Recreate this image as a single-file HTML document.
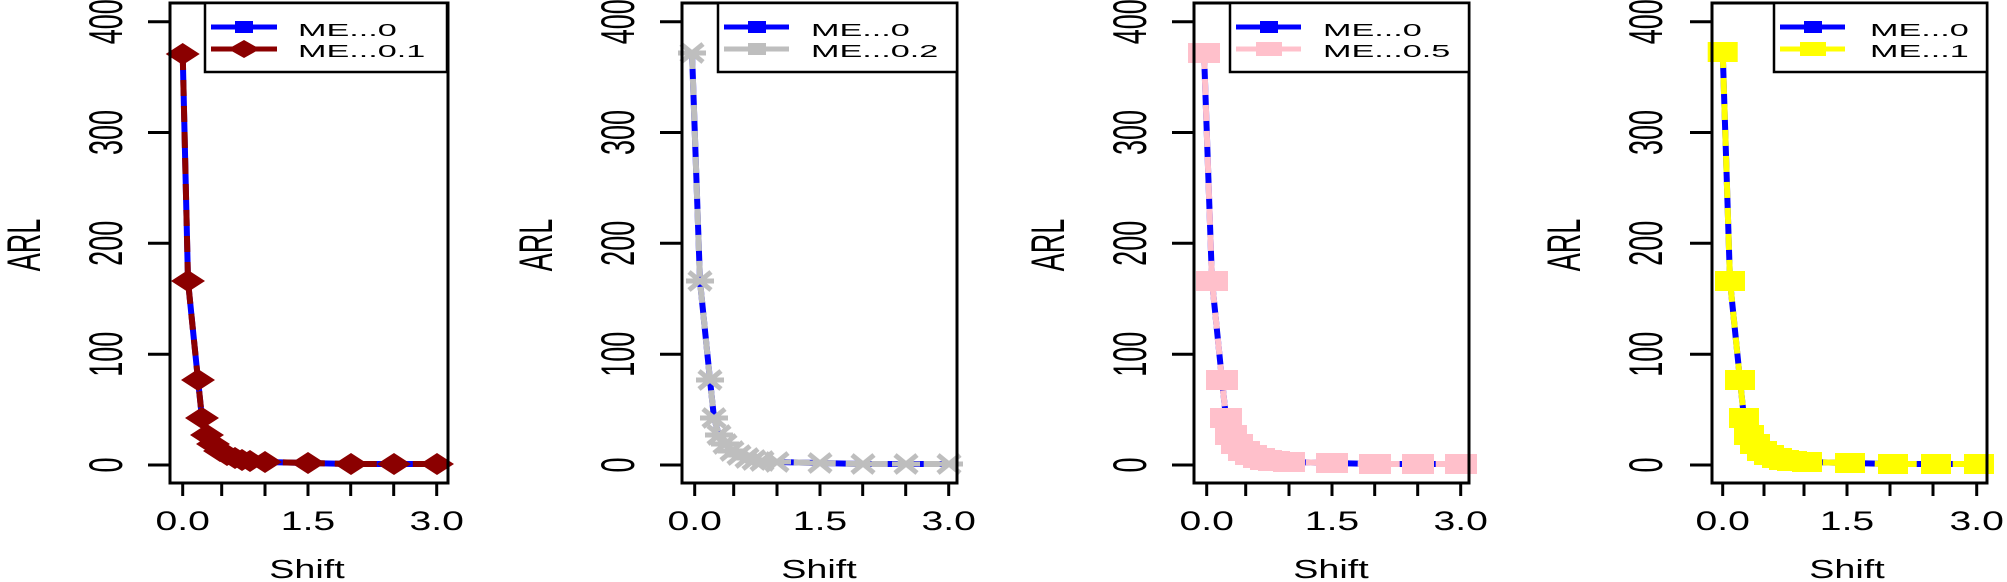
<!DOCTYPE html>
<html><head><meta charset="utf-8"><style>
html,body{margin:0;padding:0;background:#fff;}
svg{display:block;}
text{font-family:"Liberation Sans",Arial,sans-serif;fill:#000;}
</style></head><body>
<svg width="2007" height="582" viewBox="0 0 2007 582" xmlns="http://www.w3.org/2000/svg">
<defs>
<marker id="mDia" markerUnits="userSpaceOnUse" markerWidth="40" markerHeight="30" refX="20" refY="15" overflow="visible"><polygon points="3,15 20,4 37,15 20,26" fill="#8B0000"/></marker>
<marker id="mStar" markerUnits="userSpaceOnUse" markerWidth="40" markerHeight="30" refX="20" refY="15" overflow="visible"><g stroke="#BEBEBE" stroke-width="5"><line x1="6" y1="15" x2="34" y2="15"/><line x1="9" y1="6" x2="31" y2="24"/><line x1="9" y1="24" x2="31" y2="6"/></g></marker>
<marker id="mPink" markerUnits="userSpaceOnUse" markerWidth="40" markerHeight="30" refX="20" refY="15" overflow="visible"><rect x="4" y="5" width="32" height="20" fill="#FFC0CB"/></marker>
<marker id="mYel" markerUnits="userSpaceOnUse" markerWidth="40" markerHeight="30" refX="20" refY="15" overflow="visible"><rect x="5" y="5" width="30" height="20" fill="#FFFF00"/></marker>
</defs>

<!-- PANEL 1 -->
<g transform="translate(170,0)">
<path d="M12.7,54 L18,281 L28,380 L32,418 L37,435 L43,444 L50,451 L57,455 L65,458 L72,460 L80,461 L95,462 L138,463 L181,464 L224,464 L267,464" fill="none" stroke="#0000FF" stroke-width="6"/>
<path d="M12.7,54 L18,281 L28,380 L32,418 L37,435 L43,444 L50,451 L57,455 L65,458 L72,460 L80,461 L95,462 L138,463 L181,464 L224,464 L267,464" fill="none" stroke="#8B0000" stroke-width="6" stroke-dasharray="16,10" marker-start="url(#mDia)" marker-mid="url(#mDia)" marker-end="url(#mDia)"/>
<rect x="0" y="3" width="278" height="480" fill="none" stroke="#000" stroke-width="3"/>
<g stroke="#000" stroke-width="3">
<line x1="12.7" y1="483" x2="12.7" y2="496"/><line x1="51.7" y1="483" x2="51.7" y2="496"/><line x1="95" y1="483" x2="95" y2="496"/><line x1="138" y1="483" x2="138" y2="496"/><line x1="180.7" y1="483" x2="180.7" y2="496"/><line x1="223.7" y1="483" x2="223.7" y2="496"/><line x1="266.7" y1="483" x2="266.7" y2="496"/>
<line x1="-22" y1="21.7" x2="0" y2="21.7"/><line x1="-22" y1="132.5" x2="0" y2="132.5"/><line x1="-22" y1="243.3" x2="0" y2="243.3"/><line x1="-22" y1="354.2" x2="0" y2="354.2"/><line x1="-22" y1="465" x2="0" y2="465"/>
</g>
<g font-size="27" text-anchor="middle">
<text transform="translate(12.7,530) scale(1.45,1)">0.0</text>
<text transform="translate(138,530) scale(1.45,1)">1.5</text>
<text transform="translate(266.7,530) scale(1.45,1)">3.0</text>
<text transform="translate(-48,21.7) scale(1.75,1) rotate(-90)">400</text>
<text transform="translate(-48,132.5) scale(1.75,1) rotate(-90)">300</text>
<text transform="translate(-48,243.3) scale(1.75,1) rotate(-90)">200</text>
<text transform="translate(-48,354.2) scale(1.75,1) rotate(-90)">100</text>
<text transform="translate(-48,465) scale(1.75,1) rotate(-90)">0</text>
<text transform="translate(137,578) scale(1.45,1)" font-size="26">Shift</text>
<text transform="translate(-130,245) scale(1.75,1) rotate(-90)" font-size="27">ARL</text>
</g>
<rect x="35" y="3" width="242" height="69" fill="#fff" stroke="#000" stroke-width="2.5"/>
<line x1="41" y1="27" x2="107" y2="27" stroke="#0000FF" stroke-width="5"/><rect x="65" y="21" width="18" height="12" fill="#0000FF"/>
<line x1="41" y1="49" x2="107" y2="49" stroke="#8B0000" stroke-width="5"/><polygon points="58,49 74,40 90,49 74,58" fill="#8B0000"/>
<g font-size="18"><text transform="translate(128,36) scale(1.9,1)">ME...0</text><text transform="translate(128,57) scale(1.9,1)">ME...0.1</text></g>
</g>

<!-- PANEL 2 -->
<g transform="translate(682,0)">
<path d="M10,53 L18,281 L28,380 L32,418 L37,435 L43,444 L50,451 L57,455 L65,458 L72,460 L80,461 L95,462 L138,463 L181,464 L224,464 L267,464" fill="none" stroke="#0000FF" stroke-width="6"/>
<path d="M10,53 L18,281 L28,380 L32,418 L37,435 L43,444 L50,451 L57,455 L65,458 L72,460 L80,461 L95,462 L138,463 L181,464 L224,464 L267,464" fill="none" stroke="#BEBEBE" stroke-width="6" stroke-dasharray="16,10" marker-start="url(#mStar)" marker-mid="url(#mStar)" marker-end="url(#mStar)"/>
<rect x="0" y="3" width="275" height="480" fill="none" stroke="#000" stroke-width="3"/>
<g stroke="#000" stroke-width="3">
<line x1="12.7" y1="483" x2="12.7" y2="496"/><line x1="51.7" y1="483" x2="51.7" y2="496"/><line x1="95" y1="483" x2="95" y2="496"/><line x1="138" y1="483" x2="138" y2="496"/><line x1="180.7" y1="483" x2="180.7" y2="496"/><line x1="223.7" y1="483" x2="223.7" y2="496"/><line x1="266.7" y1="483" x2="266.7" y2="496"/>
<line x1="-22" y1="21.7" x2="0" y2="21.7"/><line x1="-22" y1="132.5" x2="0" y2="132.5"/><line x1="-22" y1="243.3" x2="0" y2="243.3"/><line x1="-22" y1="354.2" x2="0" y2="354.2"/><line x1="-22" y1="465" x2="0" y2="465"/>
</g>
<g font-size="27" text-anchor="middle">
<text transform="translate(12.7,530) scale(1.45,1)">0.0</text>
<text transform="translate(138,530) scale(1.45,1)">1.5</text>
<text transform="translate(266.7,530) scale(1.45,1)">3.0</text>
<text transform="translate(-48,21.7) scale(1.75,1) rotate(-90)">400</text>
<text transform="translate(-48,132.5) scale(1.75,1) rotate(-90)">300</text>
<text transform="translate(-48,243.3) scale(1.75,1) rotate(-90)">200</text>
<text transform="translate(-48,354.2) scale(1.75,1) rotate(-90)">100</text>
<text transform="translate(-48,465) scale(1.75,1) rotate(-90)">0</text>
<text transform="translate(137,578) scale(1.45,1)" font-size="26">Shift</text>
<text transform="translate(-130,245) scale(1.75,1) rotate(-90)" font-size="27">ARL</text>
</g>
<rect x="36" y="3" width="239" height="69" fill="#fff" stroke="#000" stroke-width="2.5"/>
<line x1="42" y1="27" x2="107" y2="27" stroke="#0000FF" stroke-width="5"/><rect x="66" y="21" width="18" height="12" fill="#0000FF"/>
<line x1="42" y1="49" x2="107" y2="49" stroke="#BEBEBE" stroke-width="5"/><rect x="66" y="43" width="18" height="12" fill="#BEBEBE"/>
<g font-size="18"><text transform="translate(129,36) scale(1.9,1)">ME...0</text><text transform="translate(129,57) scale(1.9,1)">ME...0.2</text></g>
</g>

<!-- PANEL 3 -->
<g transform="translate(1194,0)">
<path d="M10,53 L18,281 L28,380 L32,418 L37,435 L43,444 L50,451 L57,455 L65,458 L72,460 L80,461 L95,462 L138,463 L181,464 L224,464 L267,464" fill="none" stroke="#0000FF" stroke-width="6"/>
<path d="M10,53 L18,281 L28,380 L32,418 L37,435 L43,444 L50,451 L57,455 L65,458 L72,460 L80,461 L95,462 L138,463 L181,464 L224,464 L267,464" fill="none" stroke="#FFC0CB" stroke-width="6" stroke-dasharray="16,10" marker-start="url(#mPink)" marker-mid="url(#mPink)" marker-end="url(#mPink)"/>
<rect x="0" y="3" width="275" height="480" fill="none" stroke="#000" stroke-width="3"/>
<g stroke="#000" stroke-width="3">
<line x1="12.7" y1="483" x2="12.7" y2="496"/><line x1="51.7" y1="483" x2="51.7" y2="496"/><line x1="95" y1="483" x2="95" y2="496"/><line x1="138" y1="483" x2="138" y2="496"/><line x1="180.7" y1="483" x2="180.7" y2="496"/><line x1="223.7" y1="483" x2="223.7" y2="496"/><line x1="266.7" y1="483" x2="266.7" y2="496"/>
<line x1="-22" y1="21.7" x2="0" y2="21.7"/><line x1="-22" y1="132.5" x2="0" y2="132.5"/><line x1="-22" y1="243.3" x2="0" y2="243.3"/><line x1="-22" y1="354.2" x2="0" y2="354.2"/><line x1="-22" y1="465" x2="0" y2="465"/>
</g>
<g font-size="27" text-anchor="middle">
<text transform="translate(12.7,530) scale(1.45,1)">0.0</text>
<text transform="translate(138,530) scale(1.45,1)">1.5</text>
<text transform="translate(266.7,530) scale(1.45,1)">3.0</text>
<text transform="translate(-48,21.7) scale(1.75,1) rotate(-90)">400</text>
<text transform="translate(-48,132.5) scale(1.75,1) rotate(-90)">300</text>
<text transform="translate(-48,243.3) scale(1.75,1) rotate(-90)">200</text>
<text transform="translate(-48,354.2) scale(1.75,1) rotate(-90)">100</text>
<text transform="translate(-48,465) scale(1.75,1) rotate(-90)">0</text>
<text transform="translate(137,578) scale(1.45,1)" font-size="26">Shift</text>
<text transform="translate(-130,245) scale(1.75,1) rotate(-90)" font-size="27">ARL</text>
</g>
<rect x="36" y="3" width="239" height="69" fill="#fff" stroke="#000" stroke-width="2.5"/>
<line x1="42" y1="27" x2="107" y2="27" stroke="#0000FF" stroke-width="5"/><rect x="66" y="21" width="18" height="12" fill="#0000FF"/>
<line x1="42" y1="49" x2="107" y2="49" stroke="#FFC0CB" stroke-width="5"/><rect x="62" y="42" width="26" height="14" fill="#FFC0CB"/>
<g font-size="18"><text transform="translate(129,36) scale(1.9,1)">ME...0</text><text transform="translate(129,57) scale(1.9,1)">ME...0.5</text></g>
</g>

<!-- PANEL 4 -->
<g transform="translate(1712,0)">
<path d="M10.7,52 L18,281 L28,380 L32,418 L37,435 L43,444 L50,451 L57,455 L65,458 L72,460 L80,461 L95,462 L138,463 L181,464 L224,464 L267,464" fill="none" stroke="#0000FF" stroke-width="6"/>
<path d="M10.7,52 L18,281 L28,380 L32,418 L37,435 L43,444 L50,451 L57,455 L65,458 L72,460 L80,461 L95,462 L138,463 L181,464 L224,464 L267,464" fill="none" stroke="#FFFF00" stroke-width="6" stroke-dasharray="16,10" marker-start="url(#mYel)" marker-mid="url(#mYel)" marker-end="url(#mYel)"/>
<rect x="0" y="3" width="275" height="480" fill="none" stroke="#000" stroke-width="3"/>
<g stroke="#000" stroke-width="3">
<line x1="10.7" y1="483" x2="10.7" y2="496"/><line x1="52" y1="483" x2="52" y2="496"/><line x1="92" y1="483" x2="92" y2="496"/><line x1="135" y1="483" x2="135" y2="496"/><line x1="178" y1="483" x2="178" y2="496"/><line x1="221" y1="483" x2="221" y2="496"/><line x1="264.7" y1="483" x2="264.7" y2="496"/>
<line x1="-22" y1="21.7" x2="0" y2="21.7"/><line x1="-22" y1="132.5" x2="0" y2="132.5"/><line x1="-22" y1="243.3" x2="0" y2="243.3"/><line x1="-22" y1="354.2" x2="0" y2="354.2"/><line x1="-22" y1="465" x2="0" y2="465"/>
</g>
<g font-size="27" text-anchor="middle">
<text transform="translate(10.7,530) scale(1.45,1)">0.0</text>
<text transform="translate(135,530) scale(1.45,1)">1.5</text>
<text transform="translate(264.7,530) scale(1.45,1)">3.0</text>
<text transform="translate(-50,21.7) scale(1.75,1) rotate(-90)">400</text>
<text transform="translate(-50,132.5) scale(1.75,1) rotate(-90)">300</text>
<text transform="translate(-50,243.3) scale(1.75,1) rotate(-90)">200</text>
<text transform="translate(-50,354.2) scale(1.75,1) rotate(-90)">100</text>
<text transform="translate(-50,465) scale(1.75,1) rotate(-90)">0</text>
<text transform="translate(135,578) scale(1.45,1)" font-size="26">Shift</text>
<text transform="translate(-132,245) scale(1.75,1) rotate(-90)" font-size="27">ARL</text>
</g>
<rect x="62" y="3" width="213" height="69" fill="#fff" stroke="#000" stroke-width="2.5"/>
<line x1="68" y1="27" x2="133" y2="27" stroke="#0000FF" stroke-width="5"/><rect x="92" y="21" width="18" height="12" fill="#0000FF"/>
<line x1="68" y1="49" x2="133" y2="49" stroke="#FFFF00" stroke-width="5"/><rect x="88" y="42" width="26" height="14" fill="#FFFF00"/>
<g font-size="18"><text transform="translate(158,36) scale(1.9,1)">ME...0</text><text transform="translate(158,57) scale(1.9,1)">ME...1</text></g>
</g>
</svg>
</body></html>
